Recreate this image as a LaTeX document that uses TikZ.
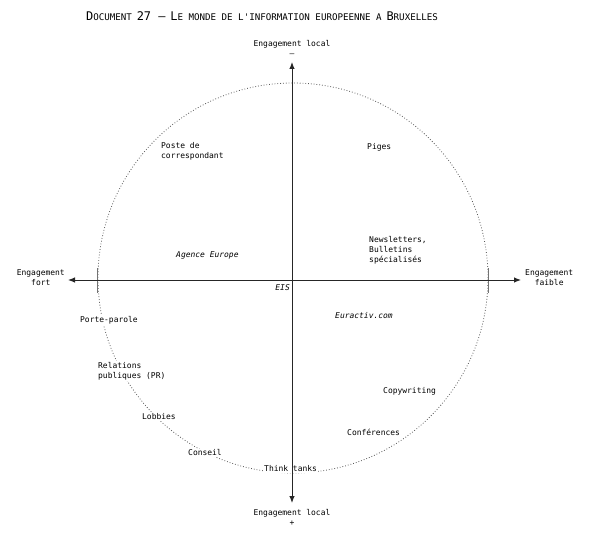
\documentclass[tikz,border=0pt]{standalone}
\usepackage{fontspec}
\setmainfont{Liberation Sans}
\newfontfamily\labfont{DejaVu Sans Mono}
\usepackage{tikz}
\usetikzlibrary{arrows.meta}

% fake small caps for the heading
\newcommand{\scw}[2]{{\fontsize{12}{14}\selectfont #1}{\fontsize{9.2}{12}\selectfont #2}}

\begin{document}
\begin{tikzpicture}[
  x=1bp, y=-1bp,
  font=\labfont\fontsize{8}{10}\selectfont,
  >={Latex[length=7bp,width=5.5bp]},
  lab/.style={align=left, inner sep=1bp},
  onrim/.style={lab, fill=white},
  axis/.style={<->, line width=1bp, black!85},
  rim/.style={draw, circle, dotted, line width=0.8bp, black!65, minimum size=390bp, inner sep=0pt},
  tick/.style={line width=0.8bp, black!55},
]
\useasboundingbox (0,0) rectangle (594,541);

% heading
\node (title) at (262,16) {\scw{D}{OCUMENT} {\fontsize{12}{14}\selectfont 27 —} \scw{L}{E MONDE DE L'INFORMATION EUROPEENNE A} \scw{B}{RUXELLES}};

% dotted circle
\node[rim] (rim) at (293,278) {};

% axis ends
\coordinate (W) at (68,280);
\coordinate (E) at (521,280);
\coordinate (N) at (292,62);
\coordinate (S) at (292,503);

% ticks where the circle meets the horizontal axis
\draw[tick] (rim.west |- W) ++(0,-12) -- ++(0,25);
\draw[tick] (rim.east |- E) ++(0,-12) -- ++(0,25);

% labels on and inside the circle
\node[lab, anchor=north west] (poste) at (160,141) {Poste de\\correspondant};
\node[lab, anchor=west] (piges) at (366,147) {Piges};
\node[lab, anchor=west, font=\labfont\itshape\fontsize{8}{10}\selectfont] (agence) at (175,255) {Agence Europe};
\node[lab, anchor=north west] (news) at (368,235) {Newsletters,\\Bulletins\\spécialisés};
\node[lab, anchor=east, font=\labfont\itshape\fontsize{8}{10}\selectfont] (eis) at (291,288) {EIS};
\node[lab, anchor=west, font=\labfont\itshape\fontsize{8}{10}\selectfont] (euractiv) at (334,316) {Euractiv.com};
\node[onrim, anchor=west] (porte) at (79,320) {Porte-parole};
\node[onrim, anchor=north west] (rp) at (97,361) {Relations\\publiques (PR)};
\node[onrim, anchor=west] (lobbies) at (141,417) {Lobbies};
\node[onrim, anchor=west] (conseil) at (187,453) {Conseil};
\node[onrim, anchor=west] (think) at (263,469) {Think tanks};
\node[lab, anchor=west] (copy) at (382,391) {Copywriting};
\node[lab, anchor=west] (conf) at (346,432) {Conférences};

% axes
\draw[axis] (W) -- (E);
\draw[axis] (S) -- (N);

% axis labels
\node[align=center, inner sep=1bp, anchor=south] (top) at (292,58) {Engagement local\\–};
\node[align=center, inner sep=1bp, anchor=north] (bot) at (292,508) {Engagement local\\+};
\node[align=center, inner sep=1bp, anchor=east] (left) at (66,278) {Engagement\\fort};
\node[align=center, inner sep=1bp, anchor=west] (right) at (524,278) {Engagement\\faible};
\end{tikzpicture}
\end{document}
